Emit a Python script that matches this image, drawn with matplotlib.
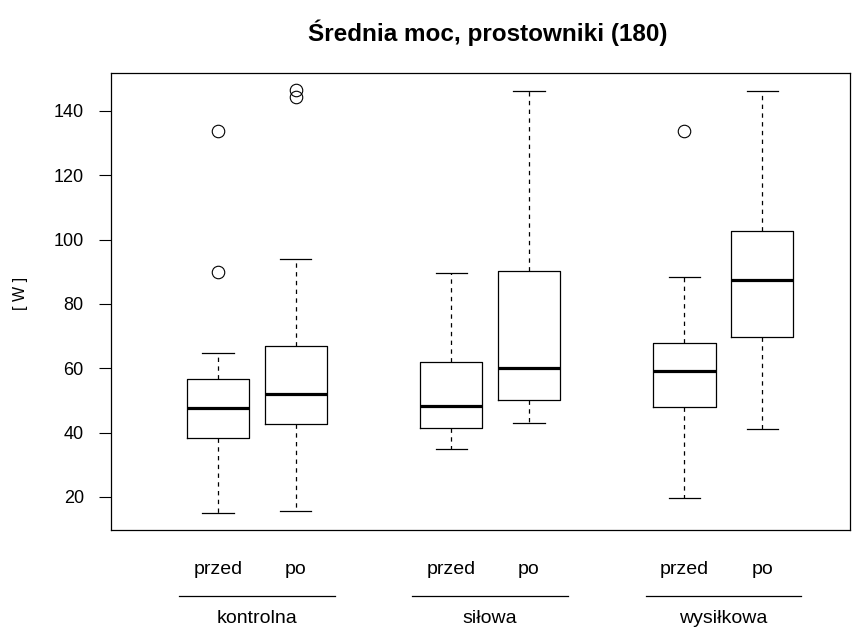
import matplotlib.pyplot as plt
import matplotlib.transforms as mtransforms

plt.rcParams['font.family'] = ['Liberation Sans', 'DejaVu Sans']

groups = ['kontrolna', 'siłowa', 'wysiłkowa']
phases = ['przed', 'po']

# box statistics, order: kontrolna przed/po, siłowa przed/po, wysiłkowa przed/po
whislo = [15.1, 15.7, 34.9, 43.1, 19.7, 41.2]
q1 = [38.4, 42.7, 41.5, 50.2, 48.0, 69.6]
med = [47.7, 51.9, 48.3, 60.0, 59.3, 87.6]
q3 = [56.8, 67.0, 62.1, 90.3, 67.8, 102.8]
whishi = [64.9, 94.0, 89.7, 146.3, 88.3, 146.3]
fliers = [[133.9, 89.9], [146.5, 144.3], [], [], [133.9], []]

positions = [1, 2, 4, 5, 7, 8]

stats = []
for i in range(len(med)):
    stats.append(dict(whislo=whislo[i], q1=q1[i], med=med[i], q3=q3[i],
                      whishi=whishi[i], fliers=fliers[i]))

fig = plt.figure(figsize=(8.55, 6.28), dpi=100)
ax = fig.add_axes([111/855, 98/628, 739/855, 457/628])

ax.bxp(stats, positions=positions, widths=0.8, capwidths=0.4,
       boxprops=dict(color='black', linewidth=0.9),
       medianprops=dict(color='black', linewidth=2.3, solid_capstyle='butt'),
       whiskerprops=dict(color='black', linewidth=0.9, linestyle=(0, (3.5, 3.5))),
       capprops=dict(color='black', linewidth=0.9),
       flierprops=dict(marker='o', markersize=9, markerfacecolor='none',
                       markeredgecolor='black', markeredgewidth=0.8))

ax.set_xlim(-0.377, 9.13)
ax.set_ylim(9.74, 151.8)
ax.set_yticks([20, 40, 60, 80, 100, 120, 140])
ax.tick_params(axis='y', direction='out', length=8.6, width=0.8, pad=11, labelsize=13)
ax.set_xticks([])
for s in ax.spines.values():
    s.set_linewidth(0.9)

# phase labels under each box, group labels under a line spanning the pair
trans = mtransforms.blended_transform_factory(ax.transData, ax.transAxes)
for i, g in enumerate(groups):
    p1, p2 = positions[2 * i], positions[2 * i + 1]
    ax.text(p1, -0.0875, phases[0], transform=trans, ha='center', va='center', fontsize=14)
    ax.text(p2, -0.0875, phases[1], transform=trans, ha='center', va='center', fontsize=14)
    ax.plot([p1 - 0.5, p2 + 0.5], [-0.144, -0.144], color='black',
            linewidth=0.9, transform=trans, clip_on=False)
    ax.text((p1 + p2) / 2, -0.193, g, transform=trans, ha='center', va='center', fontsize=14)

fig.text(20/855, 1 - 293/628, '[ W ]', rotation=90, ha='center', va='center', fontsize=11.5)
fig.text(488/855, 1 - 33/628, 'Średnia moc, prostowniki (180)', ha='center', va='center',
         fontsize=17.5, fontweight='bold')

fig.savefig('out.png', dpi=100)
